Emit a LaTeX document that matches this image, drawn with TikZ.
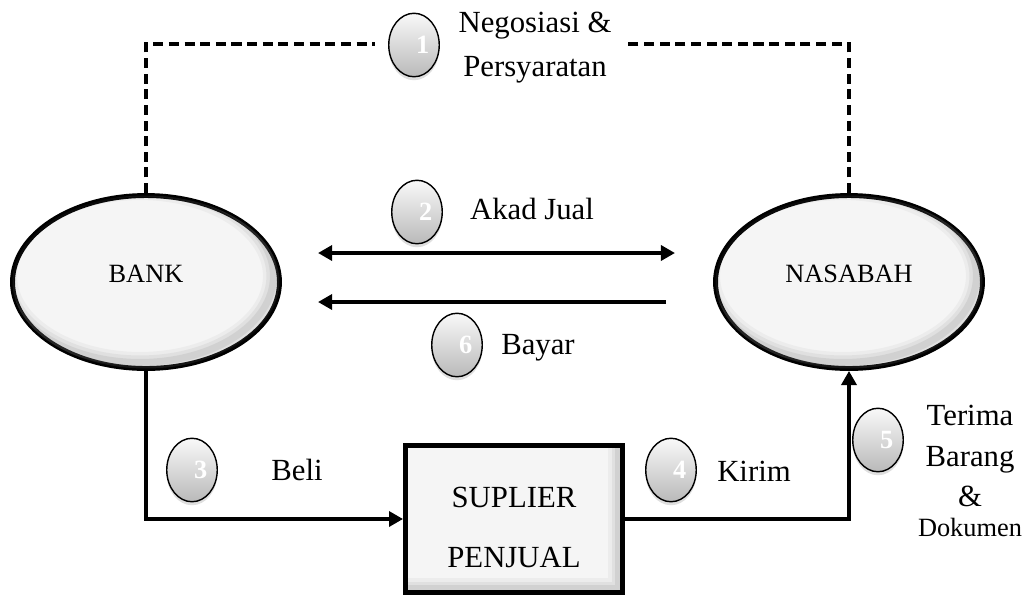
\documentclass[tikz,border=0pt]{standalone}
\usepackage{fontspec}
\setmainfont{Liberation Serif}
\usetikzlibrary{shapes.geometric,arrows.meta,shadows}

\tikzset{
  party/.style = {ellipse, draw, line width=2.8pt, fill=gray!8, minimum width=5.34cm,
    minimum height=3.46cm, text height=0pt, text depth=0pt, font=\fontsize{15}{18}\selectfont},
  shop/.style = {rectangle, draw, line width=2.8pt, fill=gray!8, minimum width=4.34cm,
    minimum height=2.94cm, align=center, font=\fontsize{17.5}{34}\selectfont},
  stepnum/.style = {ellipse, draw, line width=0.8pt, top color=gray!5, bottom color=gray!55,
    minimum width=1.01cm, minimum height=1.27cm, inner sep=0pt, text=white,
    font=\fontsize{15}{16}\selectfont\bfseries,
    drop shadow={shadow xshift=0pt, shadow yshift=-2pt, opacity=0.25}},
  lbl/.style = {align=center, font=\fontsize{17.5}{23}\selectfont},
  flow/.style = {line width=2pt},
  nego/.style = {line width=2.2pt, dash pattern=on 5.7pt off 3.2pt},
  >={Triangle[length=8pt,width=8.5pt]}
}

\begin{document}
\begin{tikzpicture}[x=0.02cm, y=-0.02cm]
\useasboundingbox (0,0) rectangle (1029,596);

\node[party] (bank) at (146,282) {BANK};
\node[party] (nasabah) at (849,282) {NASABAH};
\node[shop] (suplier) at (514,519) {\rule{0pt}{21.5pt}SUPLIER\\PENJUAL};

% inner shading
\foreach \n in {bank, nasabah} {
  \begin{scope}
    \clip (\n.center) ellipse (2.67cm and 1.73cm);
    \foreach \w/\o in {12/0.07, 8/0.1, 4/0.15}
      \draw[gray, line width=\w pt, opacity=\o] ([shift={(-6,-6)}]\n.center) ellipse (2.67cm and 1.73cm);
  \end{scope}
}
\begin{scope}
  \clip (suplier.north west) rectangle (suplier.south east);
  \foreach \w/\o in {12/0.07, 8/0.1, 4/0.15}
    \draw[gray, line width=\w pt, opacity=\o] ([shift={(-6,-6)}]suplier.north west) rectangle ([shift={(-6,-6)}]suplier.south east);
\end{scope}
\draw[line width=2.8pt] (suplier.north west) ++(1.4pt,-1.4pt) rectangle ([shift={(-1.4pt,1.4pt)}]suplier.south east);

\node[stepnum] (c1) at (414,45) {\hspace*{10pt}1};
\node[stepnum] (c2) at (417,212) {\hspace*{10pt}2};
\node[stepnum] (c3) at (192,470) {\hspace*{10pt}3};
\node[stepnum] (c4) at (671,470) {\hspace*{10pt}4};
\node[stepnum] (c5) at (878,440) {\hspace*{10pt}5};
\node[stepnum] (c6) at (457,345) {\hspace*{10pt}6};

\node[lbl, font=\fontsize{17.5}{25}\selectfont] (l1) at (535,48) {Negosiasi \&\\Persyaratan};
\node[lbl] (l2) at (532,209) {Akad Jual};
\node[lbl] (l3) at (297,470) {Beli};
\node[lbl] (l4) at (754,471) {Kirim};
\node[lbl] (l5) at (970,471) {Terima\\Barang\\\&\\[-6pt]{\fontsize{15}{18}\selectfont Dokumen}};
\node[lbl] (l6) at (538,348) {Bayar};

\coordinate (d1) at (375,44);
\coordinate (d2) at (625,44);
\coordinate (a1) at (318,253);
\coordinate (a2) at (675,253);
\coordinate (b1) at (666,302);
\coordinate (b2) at (318,302);

\draw[nego] (bank.north) |- (d1);
\draw[nego] (nasabah.north) |- (d2);
\draw[flow, <->] (a1) -- (a2);
\draw[flow, ->] (b1) -- (b2);
\draw[flow, ->] (bank.south) |- (suplier.west);
\draw[flow, ->] (suplier.east) -| (nasabah.south);
\end{tikzpicture}
\end{document}
